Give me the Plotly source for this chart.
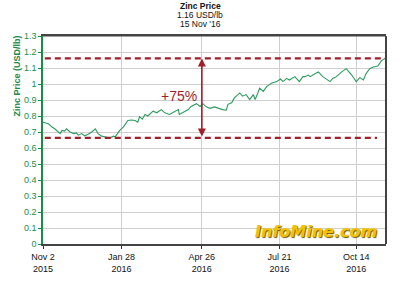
import plotly.graph_objects as go

dates = ["2015-11-02","2015-11-08","2015-11-12","2015-11-15","2015-11-21","2015-11-23","2015-11-26","2015-11-28",
         "2015-12-02","2015-12-06","2015-12-09","2015-12-11","2015-12-15","2015-12-18","2015-12-22","2015-12-26","2015-12-30",
         "2016-01-02","2016-01-06","2016-01-11","2016-01-15","2016-01-19","2016-01-21","2016-01-26","2016-01-30",
         "2016-02-04","2016-02-08","2016-02-12","2016-02-15","2016-02-17","2016-02-20","2016-02-23","2016-02-26",
         "2016-03-03","2016-03-07","2016-03-12","2016-03-16","2016-03-21","2016-03-27","2016-03-31",
         "2016-04-01","2016-04-07","2016-04-11","2016-04-14","2016-04-20","2016-04-24","2016-04-27",
         "2016-05-01","2016-05-05","2016-05-10","2016-05-14","2016-05-19","2016-05-23","2016-05-25","2016-05-29",
         "2016-06-01","2016-06-07","2016-06-10","2016-06-14","2016-06-18","2016-06-22","2016-06-24","2016-06-27","2016-06-29",
         "2016-07-03","2016-07-07","2016-07-12","2016-07-18","2016-07-22","2016-07-25","2016-07-29",
         "2016-08-01","2016-08-07","2016-08-12","2016-08-16","2016-08-18","2016-08-22","2016-08-24","2016-08-27",
         "2016-09-02","2016-09-07","2016-09-15","2016-09-18","2016-09-22","2016-09-28",
         "2016-10-03","2016-10-09","2016-10-14","2016-10-18","2016-10-22","2016-10-25","2016-10-29",
         "2016-11-02","2016-11-07","2016-11-11","2016-11-15"]
prices = [0.761,0.751,0.731,0.720,0.690,0.710,0.706,0.720,
          0.700,0.690,0.694,0.680,0.690,0.676,0.686,0.700,0.720,
          0.690,0.674,0.666,0.662,0.674,0.670,0.710,0.731,
          0.772,0.775,0.772,0.761,0.796,0.780,0.810,0.800,
          0.830,0.820,0.840,0.820,0.810,0.830,0.840,
          0.810,0.830,0.840,0.860,0.877,0.860,0.877,
          0.857,0.848,0.857,0.848,0.840,0.836,0.873,0.883,
          0.913,0.944,0.924,0.934,0.903,0.934,0.903,0.944,0.974,
          0.954,0.985,1.005,1.015,1.031,1.015,1.035,
          1.025,1.046,1.015,1.046,1.046,1.056,1.046,1.056,
          1.076,1.046,1.015,1.035,1.046,1.076,
          1.096,1.056,1.015,1.040,1.025,1.066,1.096,
          1.106,1.112,1.146,1.160]

tick_vals = ["2015-11-02","2016-01-28","2016-04-26","2016-07-21","2016-10-14"]
tick_text = ["Nov 2<br>2015","Jan 28<br>2016","Apr 26<br>2016","Jul 21<br>2016","Oct 14<br>2016"]

title_lines = ["<b>Zinc Price</b>", "1.16 USD/lb", "15 Nov '16"]
change_label = "+75%"

high = prices[-1]
low = 0.663  # support level (reference dashed line)
arrow_date = "2016-04-26"

GREEN = "#1e8a4a"
RED = "#a01f2b"
FONT = "Arial"

W, H = 400, 286
ML, MR, MT, MB = 43, 14, 36, 36
PW, PH = W - ML - MR, H - MT - MB

def px(x):  # page x -> paper x
    return (x - ML) / PW

def py(y):  # page y -> paper y
    return (H - MB - y) / PH

fig = go.Figure()
fig.add_trace(go.Scatter(x=dates, y=prices, mode="lines",
                         line=dict(color="#2e9a5e", width=1.1), hoverinfo="skip"))

fig.add_shape(type="line", xref="x", yref="y", x0="2015-11-04", x1=dates[-1], y0=high, y1=high,
              line=dict(color=RED, width=2.2, dash="6px,4px"))
fig.add_shape(type="line", xref="x", yref="y", x0="2015-11-04", x1="2016-11-06", y0=low, y1=low,
              line=dict(color=RED, width=2.2, dash="6px,4px"))

fig.add_annotation(x=arrow_date, y=high, ax=arrow_date, ay=low, xref="x", yref="y", axref="x", ayref="y",
                   text="", showarrow=True, arrowhead=2, arrowside="end+start", arrowsize=1,
                   arrowwidth=1.6, arrowcolor=RED)
fig.add_annotation(x=arrow_date, y=(high + low) / 2 + 0.015, xref="x", yref="y", text=change_label,
                   showarrow=False, xanchor="right", xshift=-3,
                   font=dict(family=FONT, size=14, color=RED))

for t, yp in zip(title_lines, [5, 14.5, 24]):
    fig.add_annotation(x=px(200), y=py(yp), xref="paper", yref="paper", text=t, showarrow=False,
                       font=dict(family=FONT, size=8.5, color="#111"), yanchor="middle", xanchor="center",
                       borderpad=0)

fig.add_annotation(x=0.0, y=1.0, xref="paper", yref="paper", text="<b>Zinc Price (USD/lb)</b>",
                   showarrow=False, textangle=-90, xanchor="right", yanchor="top", xshift=-20, yshift=2,
                   font=dict(family=FONT, size=9, color=GREEN))

fig.add_annotation(x=px(379), y=py(249), xref="paper", yref="paper", text="<b><i>InfoMine.com</i></b>",
                   showarrow=False, xanchor="right", yanchor="bottom",
                   font=dict(family="DejaVu Sans", size=16, color="#f2c200", shadow="1px 1px 1px #6b5200"))

fig.update_layout(
    width=W, height=H, margin=dict(l=ML, r=MR, t=MT, b=MB),
    paper_bgcolor="white", plot_bgcolor="white", showlegend=False,
    font=dict(family=FONT, size=9),
)
fig.update_xaxes(range=["2015-11-02", "2016-11-16"], tickvals=tick_vals, ticktext=tick_text,
                 showgrid=True, gridcolor="#cfcfcf", gridwidth=1,
                 ticks="outside", ticklen=3, tickcolor="#333", tickfont=dict(size=9, color="#111"),
                 showline=True, linecolor="#444", linewidth=2, mirror=True, zeroline=False)
fig.update_yaxes(range=[0, 1.3], dtick=0.1, tickformat="~g", showgrid=True, gridcolor="#cfcfcf", gridwidth=1,
                 ticks="outside", ticklen=3, tickcolor=GREEN, tickfont=dict(size=9, color=GREEN),
                 showline=True, linecolor=GREEN, linewidth=1.5, zeroline=False)
fig.add_shape(type="line", xref="paper", yref="paper", x0=1, x1=1, y0=0, y1=1, line=dict(color="#444", width=2))
fig.add_shape(type="line", xref="paper", yref="paper", x0=0, x1=1, y0=1, y1=1, line=dict(color="#444", width=1))

fig.write_html("out.html")
